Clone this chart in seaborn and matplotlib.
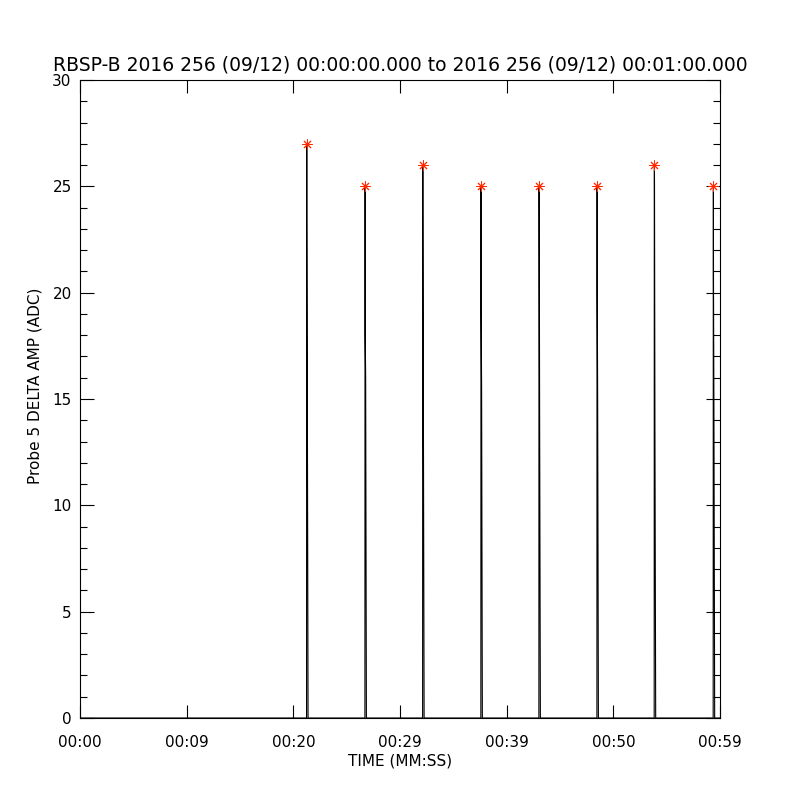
import numpy as np
import pandas as pd
import matplotlib.pyplot as plt
import seaborn as sns
from matplotlib.ticker import MultipleLocator

# spike data (seconds after 00:00:00)
spike_times = [21.25, 26.72, 32.13, 37.59, 43.03, 48.47, 53.84, 59.37]
peak_values = [27, 25, 26, 25, 25, 25, 26, 25]
upper_levels = [23.5, 18.0, 24.0, 19.0, 24.5, 20.0, 25.0, 20.5]
lower_levels = [16.0, 16.0, 15.0, 15.5, 14.0, 15.0, 13.5, 14.5]

xtick_pos = [0, 10, 20, 30, 40, 50, 60]
xtick_labels = ["00:00", "00:09", "00:20", "00:29", "00:39", "00:50", "00:59"]

title = "RBSP-B 2016 256 (09/12) 00:00:00.000 to 2016 256 (09/12) 00:01:00.000"

# build the trace: baseline, then each pulse sampled a few times
t_list = [0.0]
v_list = [0.0]
for t, pk, up, lo in zip(spike_times, peak_values, upper_levels, lower_levels):
    t_list += [t - 0.01, t, t + 0.01, t + 0.02, t + 0.06, t + 0.13]
    v_list += [0.0, up, pk, up, lo, 0.0]
t_list.append(60.0)
v_list.append(0.0)
trace = pd.DataFrame({"time": t_list, "amp": v_list})
peaks = pd.DataFrame({"time": [t + 0.01 for t in spike_times], "amp": peak_values})

sns.set_style("white")
plt.rcParams["font.family"] = ["DejaVu Sans"]
plt.rcParams["text.color"] = "black"
plt.rcParams["axes.labelcolor"] = "black"
plt.rcParams["xtick.color"] = "black"
plt.rcParams["ytick.color"] = "black"

fig = plt.figure(figsize=(8, 8), dpi=100)
ax = fig.add_axes([0.1, 0.1025, 0.8, 0.7975])

sns.lineplot(data=trace, x="time", y="amp", sort=False, estimator=None,
             color="black", linewidth=0.8, ax=ax)
sns.scatterplot(data=peaks, x="time", y="amp", marker=(8, 2, 0), s=45,
                color="#ff2a00", linewidth=0.7, edgecolor="#ff2a00", ax=ax, zorder=5)

ax.set_xlim(0, 60)
ax.set_ylim(0, 30)
ax.set_xticks(xtick_pos)
ax.set_xticklabels(xtick_labels)
ax.yaxis.set_major_locator(MultipleLocator(5))
ax.yaxis.set_minor_locator(MultipleLocator(1))

ax.tick_params(axis="x", which="major", direction="in", length=9.5, width=0.8,
               top=True, bottom=True, labelsize=11, pad=12)
ax.tick_params(axis="y", which="major", direction="in", length=10, width=0.8,
               left=True, right=True, labelsize=11, pad=6)
ax.tick_params(axis="y", which="minor", direction="in", length=5, width=0.8,
               left=True, right=True)
for s in ax.spines.values():
    s.set_linewidth(0.8)
    s.set_color("black")

ax.set_xlabel("TIME (MM:SS)", fontsize=11, labelpad=3)
ax.set_ylabel("Probe 5 DELTA AMP (ADC)", fontsize=11, labelpad=4)
ax.yaxis.set_label_coords(-0.058, 0.52)
ax.set_title(title, fontsize=13.5, pad=7)

fig.savefig("out.png", dpi=100)
